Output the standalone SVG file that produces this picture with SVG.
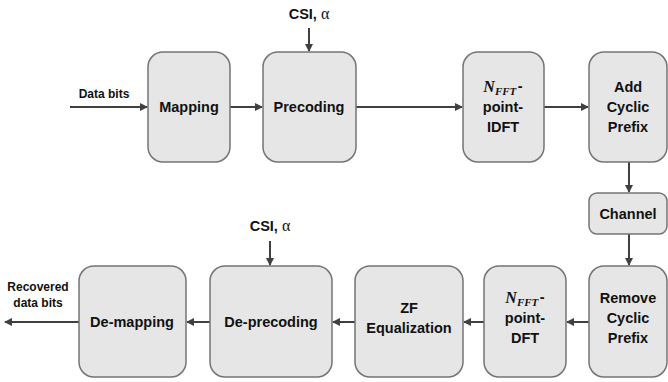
<svg xmlns="http://www.w3.org/2000/svg" width="668" height="382" viewBox="0 0 668 382">
<style>
.box{fill:#e6e6e6;stroke:#747474;stroke-width:1.5}
.t{font-family:"Liberation Sans",Arial,sans-serif;font-weight:bold;font-size:14.5px;fill:#111;text-anchor:middle}
.s{font-family:"Liberation Sans",Arial,sans-serif;font-weight:bold;font-size:12px;fill:#111;text-anchor:middle}
.m{font-family:"Liberation Serif","Times New Roman",serif;font-style:italic;font-weight:bold}
.a{fill:none;stroke:#404040;stroke-width:2;marker-end:url(#ah)}
</style>
<defs>
<marker id="ah" viewBox="0 0 8 8" refX="7" refY="4" markerWidth="4" markerHeight="4" orient="auto" markerUnits="strokeWidth">
<path d="M0,0 L8,4 L0,8 z" fill="#404040"/>
</marker>
</defs>
<rect width="668" height="382" fill="#fff"/>
<g id="connectors">
<path class="a" d="M70,107 H147"/>
<path class="a" d="M230,107 H262"/>
<path class="a" d="M309,28 V51"/>
<path class="a" d="M356,107 H462"/>
<path class="a" d="M544,107 H588"/>
<path class="a" d="M629,162 V192"/>
<path class="a" d="M629,234 V265"/>
<path class="a" d="M589,322 H567"/>
<path class="a" d="M484,322 H464"/>
<path class="a" d="M355,322 H333"/>
<path class="a" d="M270,241 V265"/>
<path class="a" d="M210,322 H187"/>
<path class="a" d="M79,322 H5"/>
</g>
<g id="label-databits"><text class="s" x="104" y="98">Data bits</text></g>
<g id="label-csi-top"><text class="t" x="309" y="19">CSI, <tspan font-family="'Liberation Serif',serif" font-weight="normal" font-size="16">α</tspan></text></g>
<g id="mapping"><rect class="box" x="148" y="52" width="82" height="110" rx="15"/><text class="t" x="189" y="112">Mapping</text></g>
<g id="precoding"><rect class="box" x="263" y="52" width="93" height="110" rx="15"/><text class="t" x="309" y="112">Precoding</text></g>
<g id="idft"><rect class="box" x="463" y="52" width="81" height="110" rx="15"/>
<text class="t" x="503" y="92"><tspan class="m" font-size="16">N</tspan><tspan class="m" font-size="11" dy="3">FFT</tspan><tspan dx="1.5" dy="-4">-</tspan></text>
<text class="t" x="503" y="112">point-</text><text class="t" x="503" y="132">IDFT</text></g>
<g id="addcp"><rect class="box" x="589" y="52" width="78" height="110" rx="15"/>
<text class="t" x="628" y="92">Add</text><text class="t" x="628" y="112">Cyclic</text><text class="t" x="628" y="132">Prefix</text></g>
<g id="channel"><rect class="box" x="589" y="193" width="78" height="41" rx="8"/><text class="t" x="628" y="219">Channel</text></g>
<g id="removecp"><rect class="box" x="589" y="266" width="78" height="111" rx="15"/>
<text class="t" x="628" y="303">Remove</text><text class="t" x="628" y="323">Cyclic</text><text class="t" x="628" y="343">Prefix</text></g>
<g id="dft"><rect class="box" x="484" y="266" width="82" height="111" rx="15"/>
<text class="t" x="525" y="303"><tspan class="m" font-size="16">N</tspan><tspan class="m" font-size="11" dy="3">FFT</tspan><tspan dx="1.5" dy="-4">-</tspan></text>
<text class="t" x="525" y="323">point-</text><text class="t" x="525" y="343">DFT</text></g>
<g id="zf"><rect class="box" x="355" y="266" width="108" height="111" rx="15"/>
<text class="t" x="409" y="313">ZF</text><text class="t" x="409" y="333">Equalization</text></g>
<g id="deprecoding"><rect class="box" x="210" y="266" width="122" height="111" rx="15"/><text class="t" x="271" y="327">De-precoding</text></g>
<g id="label-csi-bottom"><text class="t" x="270" y="231">CSI, <tspan font-family="'Liberation Serif',serif" font-weight="normal" font-size="16">α</tspan></text></g>
<g id="demapping"><rect class="box" x="79" y="266" width="107" height="111" rx="15"/><text class="t" x="132" y="327">De-mapping</text></g>
<g id="label-recovered"><text class="s" x="38" y="291">Recovered</text><text class="s" x="38" y="307">data bits</text></g>
</svg>
